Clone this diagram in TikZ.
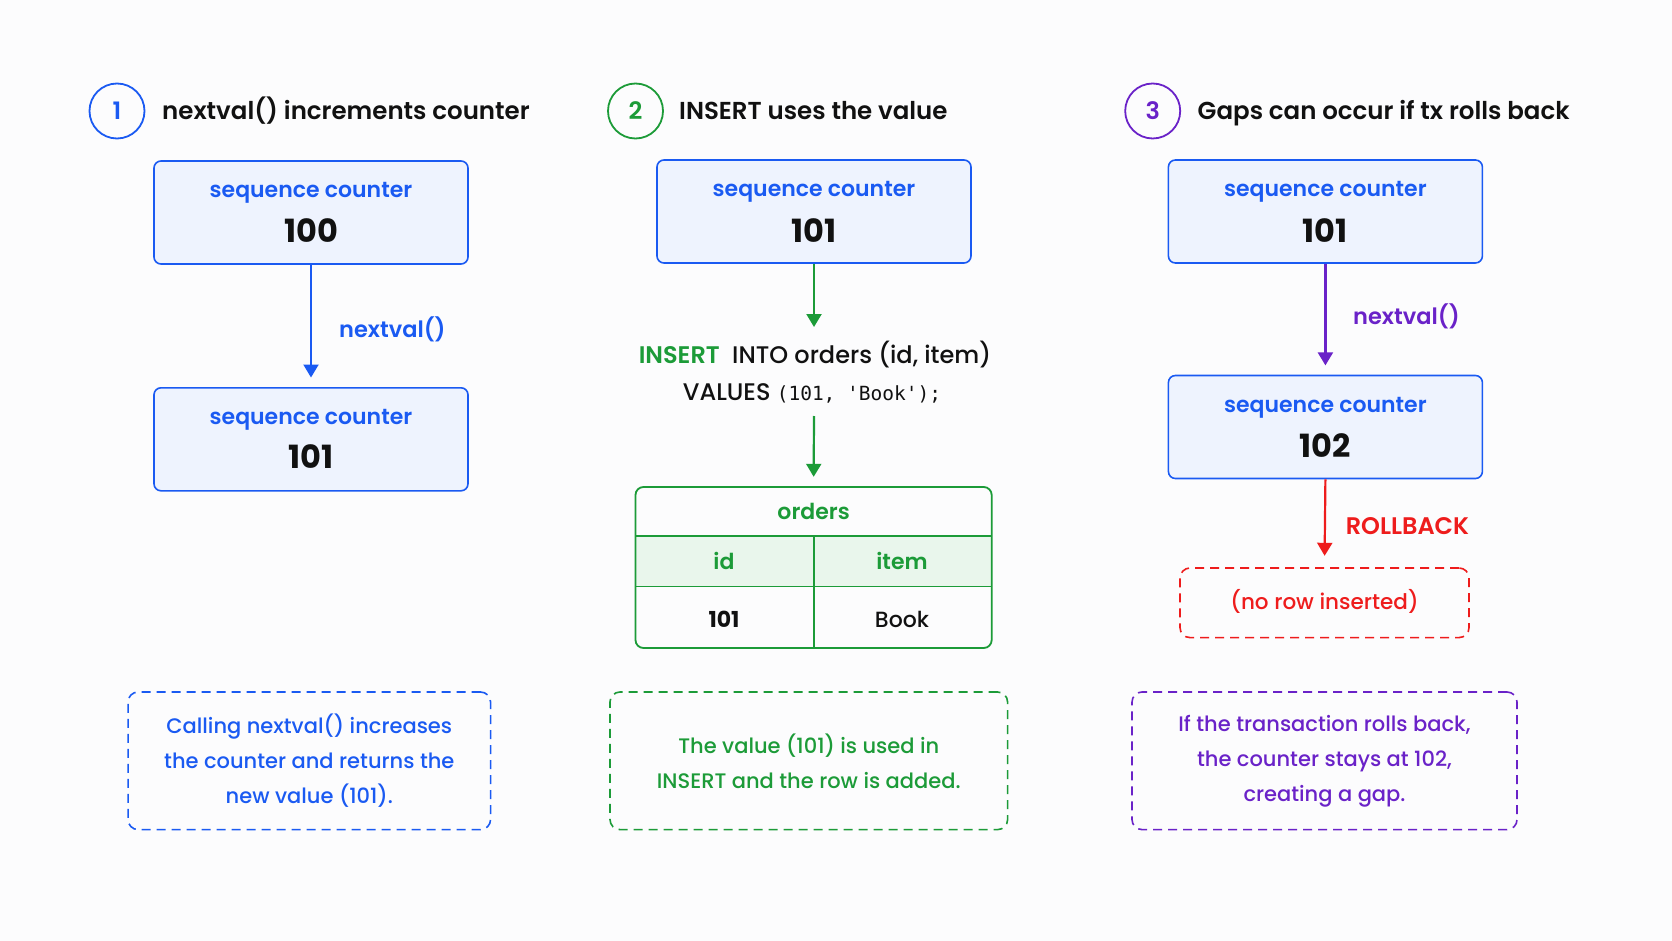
\documentclass[tikz,border=0pt]{standalone}
\usepackage{fontspec}
\setmainfont{Poppins}[UprightFont={* Medium}, BoldFont={* SemiBold}]
\newfontfamily\heavy{Poppins}[UprightFont={* Bold}]
\setmonofont{DejaVu Sans Mono}
\usetikzlibrary{arrows.meta}
\definecolor{cblue}{HTML}{1A5AF2}
\definecolor{cfill}{HTML}{EEF3FE}
\definecolor{cgreen}{HTML}{1C9B38}
\definecolor{cgfill}{HTML}{E9F6EC}
\definecolor{cpurple}{HTML}{6A22C8}
\definecolor{cred}{HTML}{EE1C1C}
\definecolor{cink}{HTML}{111111}
\definecolor{cbg}{HTML}{FCFCFD}
\begin{document}
\begin{tikzpicture}[x=1pt,y=-1pt,
  stepc/.style={circle, line width=1.8pt, minimum size=55pt, inner sep=0pt, font=\fontsize{24}{28}\selectfont\bfseries},
  title/.style={text=cink, inner sep=0pt, font=\fontsize{24.5}{28}\selectfont\bfseries},
  seqbox/.style={draw=cblue, fill=cfill, line width=1.6pt, rounded corners=7pt, minimum width=314pt, minimum height=103pt, inner sep=0pt},
  seqlbl/.style={text=cblue, inner sep=0pt, font=\fontsize{22}{26}\selectfont\bfseries},
  seqnum/.style={text=cink, inner sep=0pt, font=\fontsize{32}{36}\selectfont\heavy},
  arr/.style={line width=2.2pt, -{Triangle[width=15pt,length=13pt]}},
  lbl/.style={inner sep=0pt, font=\fontsize{22.5}{26}\selectfont\bfseries},
  sql/.style={text=cink, inner sep=0pt, font=\fontsize{24}{28}\selectfont},
  cell/.style={inner sep=0pt, font=\fontsize{22}{26}\selectfont},
  notebox/.style={line width=1.6pt, rounded corners=10pt, dash pattern=on 9pt off 6pt, align=center, inner sep=0pt, font=\fontsize{21}{35}\selectfont},
]
\fill[cbg] (0,0) rectangle (1672,941);
\useasboundingbox (0,0) rectangle (1672,941);

% headers
\node[stepc, draw=cblue, text=cblue] (s1) at (117,111) {1};
\node[title, anchor=base west] (t1) at (162,120) {nextval() increments counter};
\node[stepc, draw=cgreen, text=cgreen] (s2) at (635.5,111) {2};
\node[title, anchor=base west] (t2) at (679,120) {INSERT uses the value};
\node[stepc, draw=cpurple, text=cpurple] (s3) at (1152.7,111) {3};
\node[title, anchor=base west] (t3) at (1197.5,120) {Gaps can occur if tx rolls back};

% column 1
\node[seqbox] (a1) at (311,212.5) {};
\node[seqlbl, anchor=base] (a1l) at (311,197.7) {sequence counter};
\node[seqnum, anchor=base] (a1n) at (311,243) {100};
\node[seqbox] (b1) at (311,439.3) {};
\node[seqlbl, anchor=base] (b1l) at (311,424.3) {sequence counter};
\node[seqnum, anchor=base] (b1n) at (311,468.5) {101};
\draw[arr, draw=cblue, fill=cblue, shorten >=9.5pt] (a1.south) -- (b1.north);
\node[lbl, text=cblue, anchor=base west] (n1) at (339,337.7) {nextval()};
\node[notebox, draw=cblue, text=cblue, minimum width=362.5pt, minimum height=137.6pt] (m1) at (309.3,760.8)
  {Calling nextval() increases\\the counter and returns the\\new value (101).};

% column 2
\node[seqbox] (a2) at (814,211.5) {};
\node[seqlbl, anchor=base] (a2l) at (814,197) {sequence counter};
\node[seqnum, anchor=base] (a2n) at (814,242.5) {101};
\coordinate (sqltop) at (814,327);
\draw[arr, draw=cgreen, fill=cgreen] (a2.south) -- (sqltop);
\node[sql, anchor=base] (q1) at (815,363) {\textcolor{cgreen}{\bfseries INSERT}\ \ INTO orders (id, item)};
\node[sql, anchor=base] (q2) at (812,400) {VALUES {\fontsize{19.5}{24}\selectfont\ttfamily (101, 'Book');}};
\coordinate (sqlbot) at (814,416);
\fill[cgfill] (635.5,536) rectangle (991.7,586.5);
\node[draw=cgreen, line width=1.8pt, rounded corners=8pt, minimum width=356.2pt, minimum height=161pt, inner sep=0pt] (tbl) at (813.6,567.5) {};
\draw[cgreen, line width=1.8pt] (635.5,536) -- (991.7,536) (635.5,586.5) -- (991.7,586.5) (813.6,536) -- (813.6,648);
\draw[arr, draw=cgreen, fill=cgreen, shorten >=9.3pt] (sqlbot) -- (tbl.north);
\node[cell, text=cgreen, font=\fontsize{22}{26}\selectfont\bfseries, anchor=base] (th) at (813.6,519.5) {orders};
\node[cell, text=cgreen, font=\fontsize{22}{26}\selectfont\bfseries, anchor=base] (hid) at (724,569.5) {id};
\node[cell, text=cgreen, font=\fontsize{22}{26}\selectfont\bfseries, anchor=base] (hitem) at (902,569.5) {item};
\node[cell, text=cink, font=\fontsize{22}{26}\selectfont\heavy, anchor=base] (vid) at (724,627) {101};
\node[cell, text=cink, anchor=base] (vitem) at (902,627) {Book};
\node[notebox, draw=cgreen, text=cgreen, minimum width=397.6pt, minimum height=137.6pt] (m2) at (808.8,760.8)
  {The value (101) is used in\\INSERT and the row is added.};

% column 3
\node[seqbox] (a3) at (1325.4,211.5) {};
\node[seqlbl, anchor=base] (a3l) at (1325.4,197) {sequence counter};
\node[seqnum, anchor=base] (a3n) at (1325.4,242.5) {101};
\node[seqbox] (b3) at (1325.4,427) {};
\node[seqlbl, anchor=base] (b3l) at (1325.4,412) {sequence counter};
\node[seqnum, anchor=base] (b3n) at (1325.4,457.5) {102};
\draw[arr, draw=cpurple, fill=cpurple, shorten >=9.3pt] (a3.south) -- (b3.north);
\node[lbl, text=cpurple, anchor=base west] (n3) at (1353,324.5) {nextval()};
\node[notebox, draw=cred, text=cred, minimum width=289pt, minimum height=69.6pt] (nr) at (1324.5,602.8) {};
\node[cell, text=cred, font=\fontsize{21.5}{26}\selectfont, anchor=base] (nrt) at (1324.5,609.5) {(no row inserted)};
\draw[arr, draw=cred, fill=cred, shorten >=11.4pt] (b3.south) -- (nr.north);
\node[lbl, text=cred, font=\fontsize{24}{28}\selectfont\bfseries, anchor=base west] (rb) at (1345.6,534.5) {ROLLBACK};
\node[notebox, draw=cpurple, text=cpurple, minimum width=385pt, minimum height=137.6pt] (m3) at (1324.5,760.8)
  {If the transaction rolls back,\\the counter stays at 102,\\creating a gap.};
\end{tikzpicture}
\end{document}
